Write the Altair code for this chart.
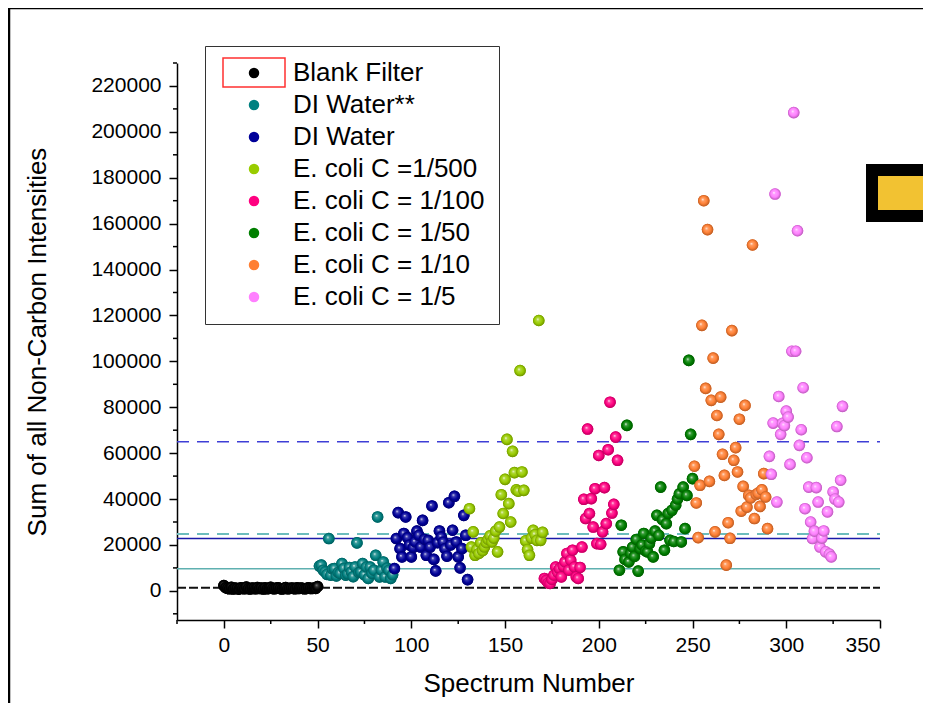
import altair as alt
import pandas as pd

# ---------------- data ----------------
series_names = ["Blank Filter", "DI Water**", "DI Water", "E. coli C =1/500",
                "E. coli C = 1/100", "E. coli C = 1/50", "E. coli C = 1/10", "E. coli C = 1/5"]
series_colors = ["#000000", "#008080", "#000099", "#99CC00",
                 "#FF0080", "#007F00", "#FF7F33", "#FF80FF"]

blank_x = list(range(0, 51))
blank_y = [2300, 1400, 1100, 900, 1500, 800, 1200, 1000, 700, 1300, 1100, 900, 1600, 1000, 800,
           1200, 1100, 900, 1400, 1000, 1200, 800, 1300, 900, 1100, 1500, 1000, 900, 1200, 1300,
           1000, 800, 1100, 1400, 900, 1000, 1200, 1100, 900, 1300, 1000, 1200, 1100, 900, 1000,
           1300, 1100, 1000, 1200, 1100, 1900]

diw2_x = list(range(51, 91))
diw2_y = [10800, 11200, 9000, 8300, 7200, 22800, 6800, 9500, 9700, 6500, 8000, 7600, 11900, 9800,
          6800, 7400, 10200, 8300, 6200, 10400, 20900, 8000, 8300, 11900, 7000, 10400, 5400, 10400,
          7600, 9000, 15500, 32200, 6100, 9000, 12600, 6100, 9900, 9000, 5400, 7000]

diw_x = list(range(91, 131))
diw_y = [9700, 22800, 34100, 18400, 14800, 25000, 32200, 23200, 20000, 14800, 18900, 21300, 26000,
         24200, 19100, 30700, 22500, 15500, 22000, 19100, 37000, 13700, 8700, 21000, 26100, 23500,
         21300, 18400, 15100, 38400, 20000, 26400, 41200, 21300, 14800, 10000, 18400, 32900, 24200, 4900]

c500_x = list(range(131, 171))
c500_y = [35800, 19100, 25700, 15500, 18000, 16300, 20900, 17500, 19100, 21000, 22400, 24000, 21300,
          23000, 26000, 17000, 27800, 41900, 33700, 48600, 66000, 38000, 30000, 60800, 51500, 44000,
          43400, 96000, 51800, 43800, 21800, 18000, 15500, 23000, 26400, 24500, 22000, 117800, 22000, 25500]

c100_x = list(range(171, 211))
c100_y = [5400, 4600, 3500, 3200, 5000, 6800, 10400, 8100, 9700, 6100, 10800, 12600, 16300, 9000,
          13400, 17700, 10400, 6100, 5400, 10200, 19100, 39900, 31500, 70500, 33700, 40200, 27800,
          44500, 20600, 59000, 20300, 25700, 45000, 29300, 61500, 82200, 33900, 37700, 67000, 56900]

c50_x = list(range(211, 251))
c50_y = [9000, 28600, 17000, 13700, 72100, 12600, 16300, 19000, 15000, 22400, 8600, 18400, 20000,
         25000, 17400, 17000, 20600, 23000, 14800, 26000, 32900, 24200, 45200, 31000, 17700, 29300,
         33700, 22000, 35100, 21500, 37300, 40000, 42300, 21300, 45200, 27100, 41600, 100400, 68200, 48900]

c10_x = list(range(251, 291))
c10_y = [54300, 38300, 23200, 46000, 115700, 170000, 88200, 157400, 47700, 83000, 101400, 25700,
         76400, 68200, 84400, 59500, 50300, 11200, 29700, 22900, 113400, 56900, 62400, 51800, 74800,
         34700, 45500, 80800, 36500, 41600, 40500, 150700, 31500, 42000, 42600, 36800, 44000, 51100,
         40900, 27100]

c5_x = list(range(291, 331))
c5_y = [58600, 50800, 73100, 172900, 38700, 84700, 68200, 73000, 72000, 78300, 75700, 55100, 104400,
        208400, 104400, 156900, 63400, 70200, 88500, 35800, 58000, 45200, 30000, 22800, 26000, 45000,
        38700, 19100, 23000, 26100, 17000, 34400, 16000, 14800, 43100, 40000, 71600, 38700, 48200, 80400]

series_x = [blank_x, diw2_x, diw_x, c500_x, c100_x, c50_x, c10_x, c5_x]
series_y = [blank_y, diw2_y, diw_y, c500_y, c100_y, c50_y, c10_y, c5_y]

# reference lines
hline_values = [65000, 24800, 22800, 9600, 1300]
hline_colors = ["#3E3ED6", "#6CBDBD", "#1A1AA8", "#5FB0B0", "#111111"]
hline_dashes = [[12, 8], [12, 8], None, None, [9, 3]]
hline_widths = [1.5, 2, 1.5, 1.5, 2]

x_major = list(range(0, 351, 50))
x_minor = list(range(-25, 351, 50))
y_major = list(range(0, 220001, 20000))
y_minor = list(range(-10000, 230001, 20000))

# ---------------- layout ----------------
W, H = 703, 557
FONT = "Liberation Sans"
X_TITLE = "Spectrum Number"
Y_TITLE = "Sum of all Non-Carbon Intensities"

rows = []
for name, xs_, ys_ in zip(series_names, series_x, series_y):
    for a, b in zip(xs_, ys_):
        rows.append({"series": name, "x": a, "y": b})
df = pd.DataFrame(rows)

xscale = alt.Scale(domain=[-25, 350], nice=False, zero=False)
yscale = alt.Scale(domain=[-12700, 230000], nice=False, zero=False)
xaxis = alt.Axis(values=x_major, tickSize=8, labelPadding=6, titlePadding=15, grid=False,
                 labelFont=FONT, labelFontSize=21, titleFont=FONT, titleFontSize=26,
                 titleFontWeight="normal")
yaxis = alt.Axis(values=y_major, format="d", tickSize=8, labelPadding=8, titlePadding=40, grid=False,
                 labelFont=FONT, labelFontSize=21, titleFont=FONT, titleFontSize=26,
                 titleFontWeight="normal")


def X(field="x:Q"):
    return alt.X(field, scale=xscale, axis=xaxis, title=X_TITLE)


def Y(field="y:Q"):
    return alt.Y(field, scale=yscale, axis=yaxis, title=Y_TITLE)


def shade(hexc, f):
    hexc = hexc.lstrip("#")
    r, g, b = (int(hexc[i:i + 2], 16) for i in (0, 2, 4))
    if f < 0:
        r, g, b = (int(c * (1 + f)) for c in (r, g, b))
    else:
        r, g, b = (int(c + (255 - c) * f) for c in (r, g, b))
    return "#%02x%02x%02x" % (r, g, b)


one = pd.DataFrame({"k": [0]})

frame = alt.Chart(one).mark_rect(filled=False, stroke="#000000", strokeWidth=2.5).encode(
    x=alt.value(-168), x2=alt.value(800), y=alt.value(-55), y2=alt.value(700))

yellow = alt.Chart(one).mark_rect(fill="#F2C232", stroke="#000000", strokeWidth=12).encode(
    x=alt.value(695), x2=alt.value(820), y=alt.value(107), y2=alt.value(153))

base = alt.Chart(df).mark_circle(size=135, opacity=1).encode(
    x=X(), y=Y(),
    color=alt.Color("series:N", scale=alt.Scale(domain=series_names, range=series_colors),
                    legend=alt.Legend(title=None, orient="none", legendX=28, legendY=-17,
                                      strokeColor="#333333", padding=14, symbolOffset=22,
                                      labelOffset=26, labelFontSize=26, labelFont=FONT,
                                      labelColor="#000000", rowPadding=6, symbolSize=110,
                                      symbolType="circle", symbolStrokeWidth=0,
                                      labelLimit=400)))

line_layers = []
for v, c, d, w in zip(hline_values, hline_colors, hline_dashes, hline_widths):
    kw = dict(color=c, strokeWidth=w)
    if d is not None:
        kw["strokeDash"] = d
    line_layers.append(
        alt.Chart(pd.DataFrame({"y": [v]})).mark_rule(**kw).encode(
            y=Y(), x=alt.value(0), x2=alt.value(W)))

grad_layers = []
for name, col in zip(series_names, series_colors):
    hl = "#9a9a9a" if col == "#000000" else "#ffffff"
    grad = {"gradient": "radial", "x1": 0.4, "y1": 0.38, "r1": 0.0,
            "x2": 0.5, "y2": 0.5, "r2": 0.55,
            "stops": [{"offset": 0.0, "color": hl},
                      {"offset": 0.22, "color": shade(col, 0.25) if col != "#000000" else "#333333"},
                      {"offset": 0.6, "color": col},
                      {"offset": 1.0, "color": shade(col, -0.35)}]}
    grad_layers.append(
        alt.Chart(df[df.series == name]).mark_circle(size=135, opacity=1, fill=grad).encode(
            x=X(), y=Y()))

xminor = alt.Chart(pd.DataFrame({"x": x_minor})).mark_rule(color="#000000", strokeWidth=1.5).encode(
    x=X(), y=alt.value(H), y2=alt.value(H + 4))
yminor = alt.Chart(pd.DataFrame({"y": y_minor})).mark_rule(color="#000000", strokeWidth=1.5).encode(
    y=Y(), x=alt.value(-4), x2=alt.value(0))

redbox = alt.Chart(one).mark_rect(filled=False, stroke="#FF3030", strokeWidth=1.5).encode(
    x=alt.value(46), x2=alt.value(108), y=alt.value(-5), y2=alt.value(24))

chart = alt.layer(base, frame, yellow, *line_layers, *grad_layers, xminor, yminor, redbox).properties(
    width=W, height=H,
    autosize=alt.AutoSizeParams(type="none"),
    padding={"left": 169, "top": 55, "right": 43, "bottom": 83},
).configure(background="#ffffff").configure_view(strokeWidth=0, stroke="transparent").configure_axis(
    grid=False, domainColor="#000000", domainWidth=1.5, tickColor="#000000", tickWidth=1.5,
    labelColor="#000000", titleColor="#000000",
)

chart.save("out.html", embed_options={"renderer": "svg", "actions": False})
